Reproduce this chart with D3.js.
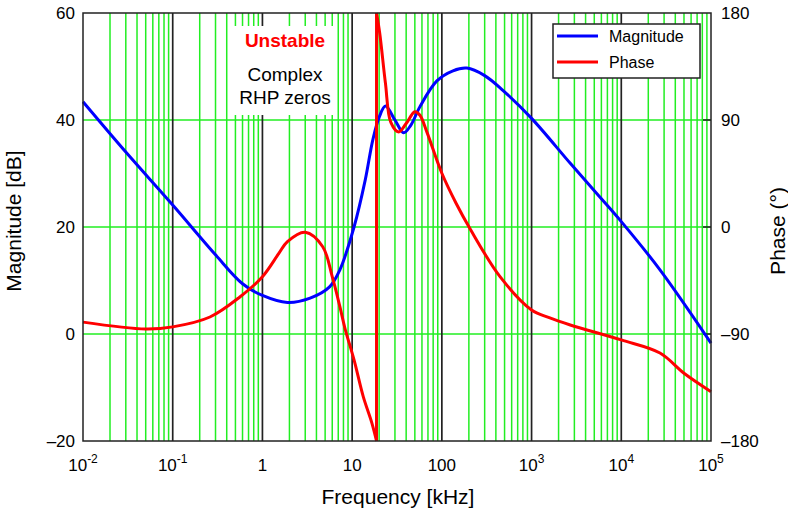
<!DOCTYPE html>
<html>
<head>
<meta charset="utf-8">
<script src="https://cdn.jsdelivr.net/npm/d3@7"></script>
<style>
  body { margin: 0; background: #fff; }
  svg text { font-family: "Liberation Sans", Arial, sans-serif; }
</style>
</head>
<body>
<div id="chart"></div>
<script>
// Magnitude curve (frequency in kHz, dB)
var magFreq = [0.01, 0.03, 0.1, 0.3, 0.6, 1, 1.9, 3.4, 5.6, 7.3, 10.5, 14, 17, 20, 23.5, 30, 37.5, 45, 57, 88, 133, 190, 300, 475, 1000, 2700, 5700, 10000, 27000, 100000];
var magDb   = [43.4, 34, 24.1, 14.8, 9.4, 7.2, 5.9, 6.7, 8.8, 12.0, 20.0, 28.8, 36.3, 40.5, 42.6, 40.0, 37.6, 39.0, 42.5, 47.3, 49.2, 49.7, 48.3, 45.6, 40.3, 31.9, 25.7, 21.0, 12.0, -1.7];

// Phase curve, before and after the wrap at ~18.7 kHz (degrees)
var phaseFreqA = [0.01, 0.05, 0.1, 0.26, 0.56, 1, 1.53, 1.9, 3.0, 4.7, 6.0, 7.3, 8.3, 10.5, 13.3, 16.6, 18.7];
var phaseDegA  = [-80, -85.8, -84, -75.7, -58.9, -41.8, -22, -12.3, -4.4, -16.6, -41.8, -67, -85, -111.8, -142.7, -164.9, -180];
var phaseFreqB = [18.7, 20.3, 23.5, 27, 33, 40, 50, 57, 68, 100, 144, 210, 445, 1000, 1600, 2700, 10000, 27000, 50000, 100000];
var phaseDegB  = [180, 163, 121, 88, 80, 87, 97, 94, 80, 45.2, 20, -2.5, -41.8, -69.8, -76.5, -82.4, -95, -106, -123, -138.5];

// ticks
var xDecades = [-2, -1, 0, 1, 2, 3, 4, 5];
var magTicks = [60, 40, 20, 0, -20];
var phaseTicks = [180, 90, 0, -90, -180];
var seriesNames = ["Magnitude", "Phase"];
var seriesColors = ["#0000ff", "#ff0000"];

var margin = {top: 13, right: 77, bottom: 71, left: 83},
    width = 788 - margin.left - margin.right,
    height = 512 - margin.top - margin.bottom;

var svg = d3.select("#chart")
  .append("svg")
    .attr("width", 788)
    .attr("height", 512);

var g = svg.append("g")
    .attr("transform", "translate(" + margin.left + "," + margin.top + ")");

var x = d3.scaleLog().domain([0.01, 100000]).range([0, width]);
var yMag = d3.scaleLinear().domain([-20, 60]).range([height, 0]);
var yPh = d3.scaleLinear().domain([-180, 180]).range([height, 0]);

// minor grid (green)
var minors = [];
for (var d = -2; d < 5; d++) {
  for (var k = 2; k <= 9; k++) minors.push(k * Math.pow(10, d));
}
g.selectAll(".minor").data(minors).enter().append("line")
    .attr("x1", function(v) { return x(v); })
    .attr("x2", function(v) { return x(v); })
    .attr("y1", 0).attr("y2", height)
    .attr("stroke", "#22ee22").attr("stroke-width", 1.5);

g.selectAll(".hgrid").data([40, 20, 0]).enter().append("line")
    .attr("x1", 0).attr("x2", width)
    .attr("y1", function(v) { return yMag(v); })
    .attr("y2", function(v) { return yMag(v); })
    .attr("stroke", "#22ee22").attr("stroke-width", 1.5);

// decade lines (black)
g.selectAll(".major").data(xDecades.slice(1, -1)).enter().append("line")
    .attr("x1", function(v) { return x(Math.pow(10, v)); })
    .attr("x2", function(v) { return x(Math.pow(10, v)); })
    .attr("y1", 0).attr("y2", height)
    .attr("stroke", "#222").attr("stroke-width", 1.7);

// right side inner ticks
g.selectAll(".rtick").data([90, 0, -90]).enter().append("line")
    .attr("x1", width - 8).attr("x2", width)
    .attr("y1", function(v) { return yPh(v); })
    .attr("y2", function(v) { return yPh(v); })
    .attr("stroke", "#222").attr("stroke-width", 1.5);

// annotation box
g.append("rect")
    .attr("x", 149).attr("y", 13)
    .attr("width", 105).attr("height", 89)
    .attr("fill", "#fff");
g.append("text")
    .attr("x", 202).attr("y", 34)
    .attr("text-anchor", "middle")
    .attr("font-size", 19).attr("font-weight", "bold")
    .attr("fill", "#ff0000")
    .text("Unstable");
g.append("text")
    .attr("x", 202).attr("y", 68)
    .attr("text-anchor", "middle")
    .attr("font-size", 19)
    .text("Complex");
g.append("text")
    .attr("x", 202).attr("y", 91)
    .attr("text-anchor", "middle")
    .attr("font-size", 19)
    .text("RHP zeros");

// curves
var magData = magFreq.map(function(f, i) { return {f: f, v: magDb[i]}; });
var phA = phaseFreqA.map(function(f, i) { return {f: f, v: phaseDegA[i]}; });
var phB = phaseFreqB.map(function(f, i) { return {f: f, v: phaseDegB[i]}; });

var magLine = d3.line()
    .x(function(d) { return x(d.f); })
    .y(function(d) { return yMag(d.v); })
    .curve(d3.curveCatmullRom.alpha(0.5));
var phLine = d3.line()
    .x(function(d) { return x(d.f); })
    .y(function(d) { return yPh(d.v); })
    .curve(d3.curveCatmullRom.alpha(0.5));

g.append("path").datum(magData)
    .attr("fill", "none").attr("stroke", seriesColors[0])
    .attr("stroke-width", 3).attr("d", magLine);

g.append("path").datum(phA)
    .attr("fill", "none").attr("stroke", seriesColors[1])
    .attr("stroke-width", 3).attr("d", phLine);
g.append("line")
    .attr("x1", x(phA[phA.length - 1].f)).attr("y1", yPh(phA[phA.length - 1].v))
    .attr("x2", x(phB[0].f)).attr("y2", yPh(phB[0].v))
    .attr("stroke", seriesColors[1]).attr("stroke-width", 3);
g.append("path").datum(phB)
    .attr("fill", "none").attr("stroke", seriesColors[1])
    .attr("stroke-width", 3).attr("d", phLine);

// frame
g.append("rect")
    .attr("x", 0).attr("y", 0)
    .attr("width", width).attr("height", height)
    .attr("fill", "none").attr("stroke", "#222").attr("stroke-width", 1.5);

// x tick labels
var xl = g.selectAll(".xl").data(xDecades).enter().append("text")
    .attr("x", function(v) { return x(Math.pow(10, v)); })
    .attr("y", height + 30)
    .attr("text-anchor", "middle")
    .attr("font-size", 17);
xl.each(function(v) {
  var t = d3.select(this);
  if (v >= 0 && v <= 2) {
    t.text(String(Math.pow(10, v)));
  } else {
    t.append("tspan").text("10");
    t.append("tspan").attr("dy", -8).attr("font-size", 12).text(String(v));
  }
});

// left labels
g.selectAll(".yl").data(magTicks).enter().append("text")
    .attr("x", -8)
    .attr("y", function(v) { return yMag(v) + 6; })
    .attr("text-anchor", "end")
    .attr("font-size", 17)
    .text(function(v) { return v < 0 ? "\u2013" + (-v) : v; });

// right labels
g.selectAll(".pl").data(phaseTicks).enter().append("text")
    .attr("x", width + 10)
    .attr("y", function(v) { return yPh(v) + 6; })
    .attr("font-size", 17)
    .text(function(v) { return v < 0 ? "\u2013" + (-v) : v; });

// axis titles
g.append("text")
    .attr("x", width / 2 + 1).attr("y", height + 63)
    .attr("text-anchor", "middle").attr("font-size", 21)
    .text("Frequency [kHz]");
g.append("text")
    .attr("transform", "translate(" + (-62) + "," + (height / 2 - 6) + ") rotate(-90)")
    .attr("text-anchor", "middle").attr("font-size", 21)
    .text("Magnitude [dB]");
g.append("text")
    .attr("transform", "translate(" + (width + 74) + "," + (height / 2 + 4) + ") rotate(-90)")
    .attr("text-anchor", "middle").attr("font-size", 21)
    .text("Phase (\u00b0)");

// legend
var lg = g.append("g").attr("transform", "translate(470,11)");
lg.append("rect")
    .attr("x", 0).attr("y", 0).attr("width", 147).attr("height", 54)
    .attr("fill", "#fff").attr("stroke", "#222").attr("stroke-width", 1.5);
seriesNames.forEach(function(name, i) {
  lg.append("line")
      .attr("x1", 4).attr("x2", 45)
      .attr("y1", 12 + i * 26).attr("y2", 12 + i * 26)
      .attr("stroke", seriesColors[i]).attr("stroke-width", 3);
  lg.append("text")
      .attr("x", 56).attr("y", 18 + i * 26)
      .attr("font-size", 16)
      .text(name);
});
</script>
</body>
</html>
